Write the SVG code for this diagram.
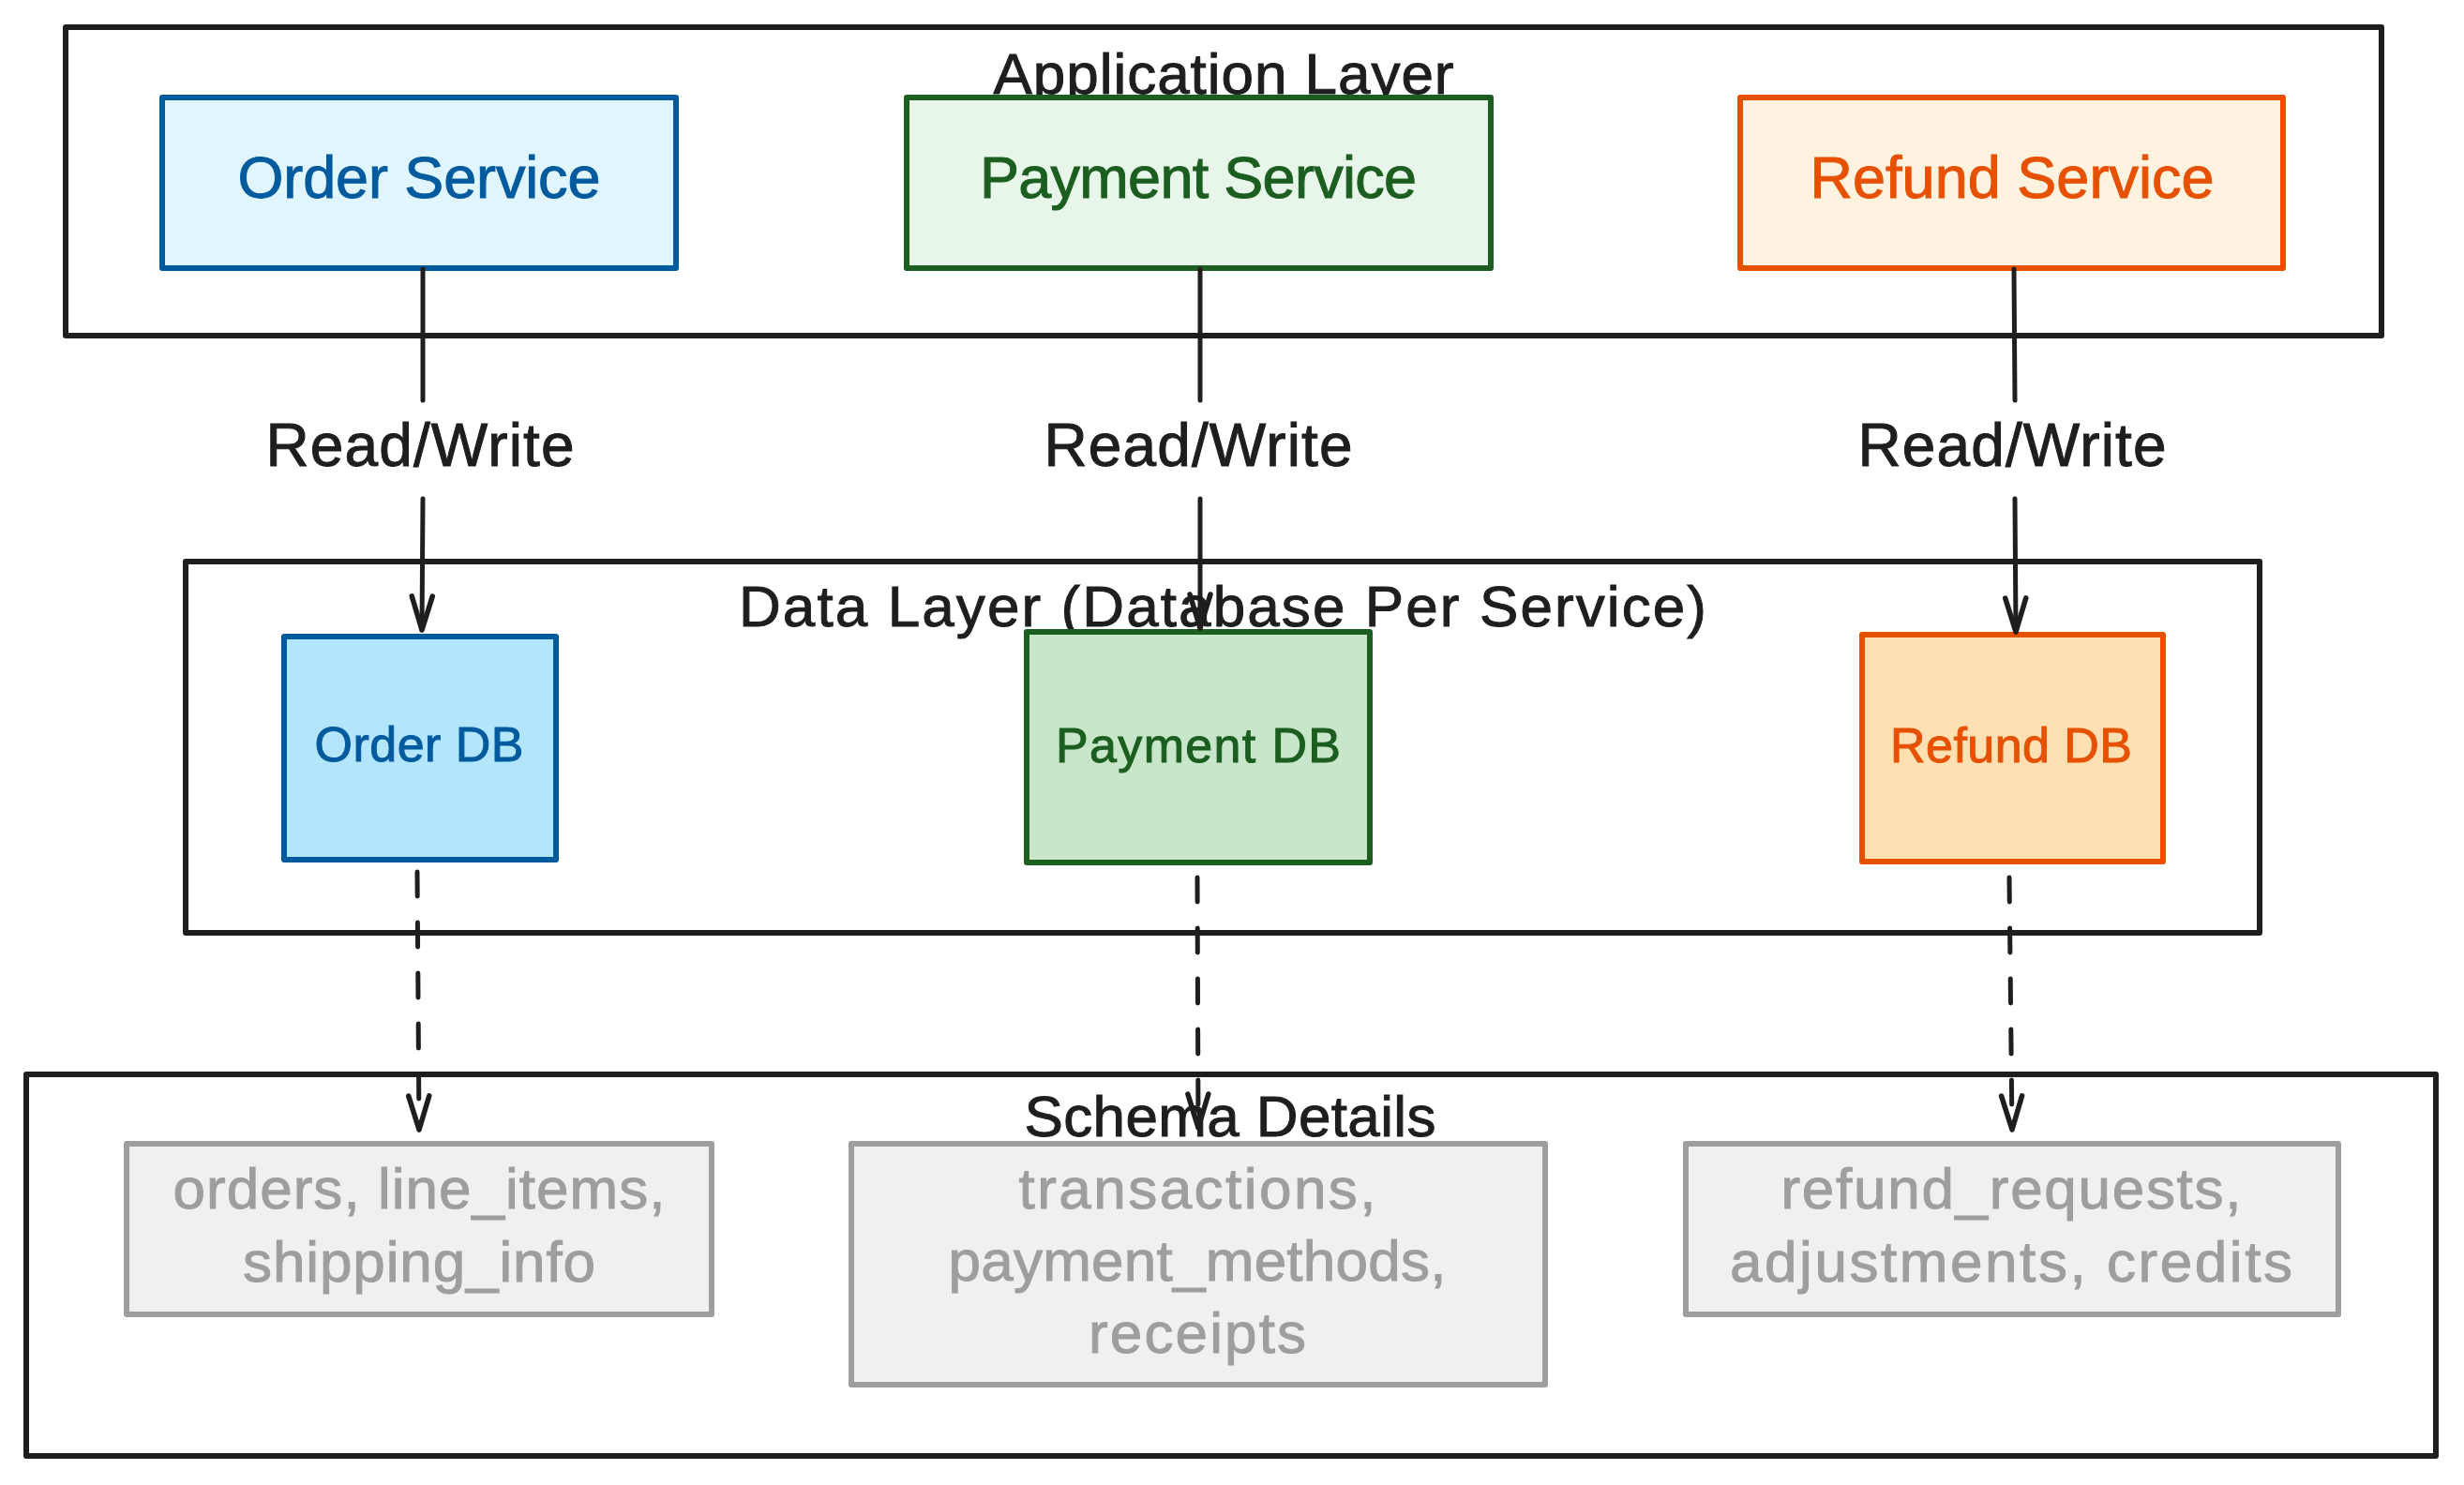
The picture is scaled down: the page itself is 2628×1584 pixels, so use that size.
<svg xmlns="http://www.w3.org/2000/svg" width="2628" height="1584" viewBox="0 0 2628 1584">
<defs>
<style>
.grp{fill:#ffffff;stroke:#1e1e1e;stroke-width:6;stroke-linejoin:round}
.title{font-family:"Liberation Sans",Arial,sans-serif;font-size:62px;fill:#1e1e1e;stroke:#1e1e1e;stroke-width:1;text-anchor:middle}
.lbl{font-family:"Liberation Sans",Arial,sans-serif;font-size:63px;stroke-width:1;text-anchor:middle}
.dbl{font-family:"Liberation Sans",Arial,sans-serif;font-size:52px;stroke-width:1;text-anchor:middle}
.sch{font-family:"Liberation Sans",Arial,sans-serif;font-size:62px;fill:#9e9e9e;stroke:#9e9e9e;stroke-width:1;text-anchor:middle}
.node{stroke-width:6;stroke-linejoin:round}
.blue{stroke:#005a9e}
.green{stroke:#1b5e20}
.orange{stroke:#e65100}
.grey{stroke:#9e9e9e;fill:#f0f0f0}
.tblue{fill:#005a9e;stroke:#005a9e}
.tgreen{fill:#1b5e20;stroke:#1b5e20}
.torange{fill:#e65100;stroke:#e65100}
.conn{fill:none;stroke:#1e1e1e;stroke-width:5;stroke-linecap:round}
.dash{stroke-dasharray:26 28}
.rw{font-family:"Liberation Sans",Arial,sans-serif;font-size:64px;fill:#1e1e1e;stroke:#1e1e1e;stroke-width:1;text-anchor:middle}
</style>
<marker id="arr" markerUnits="userSpaceOnUse" viewBox="-42 -16 46 32" markerWidth="46" markerHeight="32" refX="0" refY="0" orient="auto" overflow="visible">
<path d="M -36 -11 L 0 0 L -36 11" fill="none" stroke="#1e1e1e" stroke-width="5.5" stroke-linecap="round" stroke-linejoin="round"/>
</marker>
</defs>
<rect width="2628" height="1584" fill="#ffffff"/>

<g id="app-layer">
<rect class="grp" x="70" y="29" width="2470" height="329"/>
<text class="title" x="1305" y="100" textLength="491">Application Layer</text>
</g>
<g id="data-layer">
<rect class="grp" x="198" y="599" width="2212" height="396"/>
<text class="title" x="1304" y="668" textLength="1032">Data Layer (Database Per Service)</text>
</g>
<g id="schema-layer">
<rect class="grp" x="28" y="1146" width="2570" height="407"/>
<text class="title" x="1312" y="1212" textLength="439">Schema Details</text>
</g>

<g id="order-service">
<rect class="node blue" fill="#e1f5fe" x="173" y="104" width="548" height="182"/>
<text class="lbl tblue" x="447" y="211" textLength="387">Order Service</text>
</g>
<g id="payment-service">
<rect class="node green" fill="#e8f5e9" x="967" y="104" width="623" height="182"/>
<text class="lbl tgreen" x="1278" y="211" textLength="466">Payment Service</text>
</g>
<g id="refund-service">
<rect class="node orange" fill="#fff3e0" x="1856" y="104" width="579" height="182"/>
<text class="lbl torange" x="2146" y="211" textLength="431">Refund Service</text>
</g>

<g id="order-db">
<rect class="node blue" fill="#b3e5fc" x="303" y="679" width="290" height="238"/>
<text class="dbl tblue" x="447" y="812" textLength="223">Order DB</text>
</g>
<g id="payment-db">
<rect class="node green" fill="#c8e6c9" x="1095" y="674" width="366" height="246"/>
<text class="dbl tgreen" x="1278" y="813" textLength="304">Payment DB</text>
</g>
<g id="refund-db">
<rect class="node orange" fill="#ffe0b2" x="1986" y="677" width="321" height="242"/>
<text class="dbl torange" x="2145" y="813" textLength="258">Refund DB</text>
</g>

<g id="order-schema">
<rect class="node grey" x="135" y="1220" width="624" height="182"/>
<text class="sch" x="447" y="1289" textLength="525">orders, line_items,</text>
<text class="sch" x="447" y="1367" textLength="376">shipping_info</text>
</g>
<g id="payment-schema">
<rect class="node grey" x="908" y="1220" width="740" height="257"/>
<text class="sch" x="1277" y="1289" textLength="381">transactions,</text>
<text class="sch" x="1277" y="1366" textLength="531">payment_methods,</text>
<text class="sch" x="1277" y="1443" textLength="232">receipts</text>
</g>
<g id="refund-schema">
<rect class="node grey" x="1798" y="1220" width="696" height="182"/>
<text class="sch" x="2145" y="1289" textLength="491">refund_requests,</text>
<text class="sch" x="2145" y="1367" textLength="600">adjustments, credits</text>
</g>

<g id="connectors">
<path class="conn" d="M 451 287 L 451 427"/>
<path class="conn" d="M 451 532 L 450 672" marker-end="url(#arr)"/>
<text class="rw" x="448" y="497" textLength="329">Read/Write</text>
<path class="conn" d="M 1280 287 L 1280 427"/>
<path class="conn" d="M 1280 532 L 1280 670" marker-end="url(#arr)"/>
<text class="rw" x="1278" y="497" textLength="329">Read/Write</text>
<path class="conn" d="M 2148 287 L 2149 427"/>
<path class="conn" d="M 2149 532 L 2150 674" marker-end="url(#arr)"/>
<text class="rw" x="2146" y="497" textLength="329">Read/Write</text>
<path class="conn dash" d="M 445 930 L 447 1205" marker-end="url(#arr)"/>
<path class="conn dash" d="M 1277 936 L 1278 1203" marker-end="url(#arr)"/>
<path class="conn dash" d="M 2143 936 L 2146 1205" marker-end="url(#arr)"/>
</g>
</svg>
